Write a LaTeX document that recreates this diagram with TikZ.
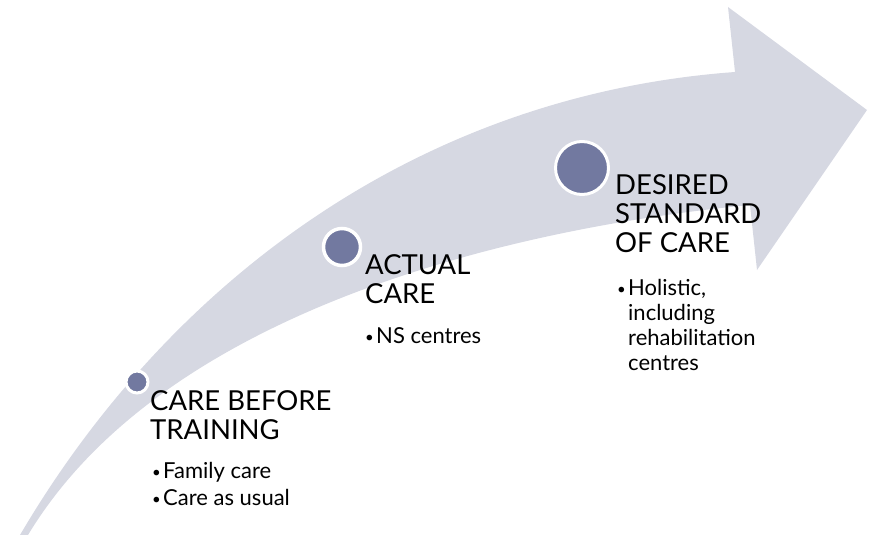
\documentclass[tikz,border=0pt]{standalone}
\usepackage{fontspec}
\setmainfont{Lato}
\usetikzlibrary{positioning}
\definecolor{bandgray}{RGB}{214,216,226}
\definecolor{dotblue}{RGB}{114,121,160}
\newcommand{\bul}{\makebox[12pt][l]{\hspace{1pt}\raisebox{1.5pt}{\fontsize{15}{15}\selectfont\textbullet}}}
\newcommand{\hangline}{\hspace*{12pt}}

\begin{document}
\begin{tikzpicture}[x=1pt,y=-1pt,
  stagedot/.style={circle,fill=dotblue,draw=white,line width=3pt,inner sep=0pt},
  stagetitle/.style={anchor=north west,inner sep=0pt,align=left,font=\fontsize{27.5}{29}\selectfont},
  stageitems/.style={inner sep=0pt,align=left,font=\fontsize{22}{25}\selectfont}]
\useasboundingbox (0,0) rectangle (870,535);

% curved band ending in the arrow head
\fill[bandgray] (20,535) .. controls (170,280) and (420,95) .. (735,72)
  -- (728,7) -- (867,110) -- (757,270) -- (750,205)
  .. controls (540,225) and (170,300) .. (28,535) -- cycle;

% stage 1
\node[stagedot,minimum size=22pt] (dot1) at (137,382) {};
\node[stagetitle] (title1) at (150,390) {CARE BEFORE\\TRAINING};
\node[stageitems,below right=23pt and 1pt of title1.south west] (items1)
  {\bul Family care\\[2pt]\bul Care as usual};

% stage 2
\node[stagedot,minimum size=37pt,line width=3.5pt] (dot2) at (342,247) {};
\node[stagetitle] (title2) at (365,254) {ACTUAL\\CARE};
\node[stageitems,below right=24pt and -1pt of title2.south west] (items2)
  {\bul NS centres};

% stage 3
\node[stagedot,minimum size=53pt] (dot3) at (582,168) {};
\node[stagetitle] (title3) at (615,174) {DESIRED\\STANDARD\\OF CARE};
\node[stageitems,below right=27pt and 1pt of title3.south west] (items3)
  {\bul Holistic,\\\hangline including\\\hangline rehabilitation\\\hangline centres};
\end{tikzpicture}
\end{document}
